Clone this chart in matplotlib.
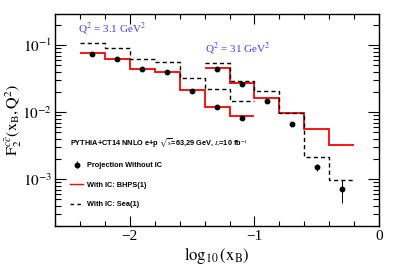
import numpy as np
import matplotlib.pyplot as plt
from matplotlib.lines import Line2D
from matplotlib.ticker import MultipleLocator, LogLocator, NullFormatter

plt.rcParams['font.family'] = 'Liberation Serif'
plt.rcParams['mathtext.fontset'] = 'stix'

# Q2 = 3.1 GeV2 bins
edges_lo = [-2.4, -2.2, -2.0, -1.8, -1.6, -1.4, -1.2, -1.0]
bhps_lo = [0.076, 0.0625, 0.0448, 0.0403, 0.0216, 0.0121, 0.0088]
sea_lo = [0.107, 0.092, 0.0625, 0.0557, 0.0321, 0.0220, 0.0148]
proj_lo = [0.074, 0.0620, 0.0438, 0.0400, 0.0210, 0.0119, 0.0083]
err_lo = [0.002, 0.0015, 0.001, 0.001, 0.0006, 0.0004, 0.0003]

# Q2 = 31 GeV2 bins
edges_hi = [-1.4, -1.2, -1.0, -0.8, -0.6, -0.4, -0.2]
bhps_hi = [0.0454, 0.0277, 0.0165, 0.00966, 0.00557, 0.00325]
sea_hi = [0.0539, 0.0293, 0.0208, 0.00966, 0.00213, 0.00098]
proj_hi = [0.0443, 0.0262, 0.0146, 0.00662, 0.00151, 0.000716]
err_hi_dn = [0.0012, 0.0007, 0.0005, 0.0003, 0.0002, 0.000277]
err_hi_up = [0.0012, 0.0007, 0.0005, 0.0003, 0.0002, 0.000264]

fig = plt.figure(figsize=(3.99, 2.70), dpi=100)
ax = fig.add_axes([0.138, 0.163, 0.812, 0.785])

red = '#ff0000'
for edges, bhps, sea in [(edges_lo, bhps_lo, sea_lo), (edges_hi, bhps_hi, sea_hi)]:
    ax.stairs(bhps, edges, color=red, lw=1.3, baseline=None)
    ax.stairs(sea, edges, color='k', lw=1.0, ls=(0, (3, 2.2)), baseline=None)

c_lo = 0.5 * (np.array(edges_lo[:-1]) + np.array(edges_lo[1:]))
c_hi = 0.5 * (np.array(edges_hi[:-1]) + np.array(edges_hi[1:]))
pts = ax.errorbar(c_lo, proj_lo, yerr=err_lo, fmt='o', color='k', ms=3.2, elinewidth=0.7, capsize=0)
ax.errorbar(c_hi, proj_hi, yerr=[err_hi_dn, err_hi_up], fmt='o', color='k', ms=3.2,
            elinewidth=0.7, capsize=0)

ax.set_yscale('log')
ax.set_xlim(-2.6, 0)
ax.set_ylim(2.0e-4, 0.293)

ax.xaxis.set_major_locator(MultipleLocator(1))
ax.xaxis.set_minor_locator(MultipleLocator(0.2))
ax.yaxis.set_major_locator(LogLocator(base=10, numticks=10))
ax.yaxis.set_minor_locator(LogLocator(base=10, subs=np.arange(2, 10), numticks=20))
ax.yaxis.set_minor_formatter(NullFormatter())
ax.xaxis.set_major_formatter(plt.FuncFormatter(lambda v, p: '0' if abs(v) < 1e-9 else '\u2212%d' % abs(v)))
ax.yaxis.set_major_formatter(plt.FuncFormatter(lambda v, p: r'$10^{%d}$' % round(np.log10(v))))

ax.tick_params(which='both', direction='in', top=True, right=True, labelsize=11, width=0.8)
ax.tick_params(which='major', axis='x', length=7, pad=3)
ax.tick_params(which='minor', axis='x', length=3.5)
ax.tick_params(which='major', axis='y', length=8, pad=2)
ax.tick_params(which='minor', axis='y', length=4)
for s in ax.spines.values():
    s.set_linewidth(1.0)

ax.set_xlabel(r'$\log_{10}(\mathrm{x}_{\mathrm{B}})$', fontsize=12, labelpad=1)
ax.set_ylabel(r'$\mathrm{F}_2^{c\bar{c}}(\mathrm{x}_{\mathrm{B}},\mathrm{Q}^2)$', fontsize=11.5, labelpad=-1)

blue = '#3c3cff'
ax.text(0.071, 0.932, r'Q$^2$ = 3.1 GeV$^2$', transform=ax.transAxes, color=blue, fontsize=8, va='center')
ax.text(0.463, 0.834, r'Q$^2$ = 31 GeV$^2$', transform=ax.transAxes, color=blue, fontsize=8, va='center')

ax.text(0.046, 0.39, r'PYTHIA+CT14 NNLO e+p $\sqrt{\rm s}$=63,29 GeV, $L$=10 fb$^{-1}$',
        transform=ax.transAxes, fontsize=5.3, family='Liberation Sans', weight='bold', va='center')

handles = [
    pts,
    Line2D([], [], color=red, lw=1.0),
    Line2D([], [], color='k', lw=1.0, ls=(0, (2.5, 2.5))),
]
labels = ['Projection Without IC', 'With IC: BHPS(1)', 'With IC: Sea(1)']
leg = ax.legend(handles, labels, loc='upper left', bbox_to_anchor=(0.046, 0.302), frameon=False,
                prop={'family': 'Liberation Sans', 'weight': 'bold', 'size': 5.3},
                handlelength=1.8, handletextpad=0.45, labelspacing=1.7, borderaxespad=0,
                borderpad=0)

fig.savefig('out.png', dpi=100)
